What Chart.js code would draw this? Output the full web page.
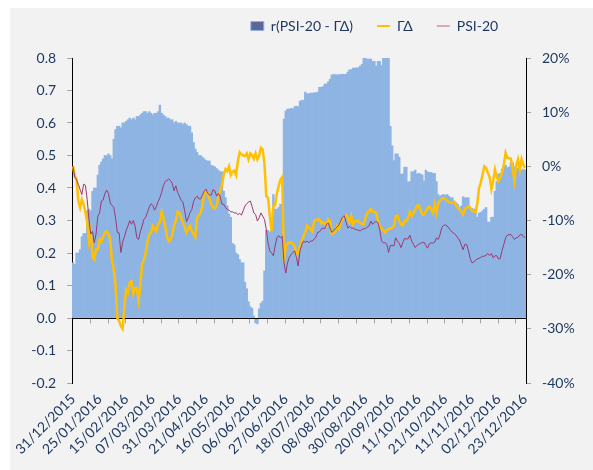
<!DOCTYPE html>
<html><head><meta charset="utf-8">
<script src="https://cdn.jsdelivr.net/npm/chart.js@4.4.1/dist/chart.umd.min.js"></script>
<style>
html,body{margin:0;padding:0;background:#fff;width:593px;height:470px;overflow:hidden}
#wrap{position:absolute;left:10px;top:8px;width:583px;height:462px;background:#f2f2f2}
canvas{display:block}
</style></head><body>
<div id="wrap"><canvas id="c" width="583" height="462"></canvas></div>
<script>
const tickLabels = ['31/12/2015','25/01/2016','15/02/2016','07/03/2016','31/03/2016','21/04/2016','16/05/2016','06/06/2016','27/06/2016','18/07/2016','08/08/2016','30/08/2016','20/09/2016','11/10/2016','21/10/2016','11/11/2016','02/12/2016','23/12/2016'];

const seriesNames = ['r(PSI-20 - ΓΔ)', 'ΓΔ', 'PSI-20'];

const corrValues = [
0.17,0.165,0.20,0.20,0.21,0.25,0.26,0.26,0.33,0.335,
0.33,0.39,0.40,0.40,0.44,0.47,0.48,0.49,0.50,0.50,
0.505,0.50,0.49,0.55,0.58,0.59,0.59,0.585,0.60,0.60,
0.605,0.61,0.615,0.61,0.615,0.61,0.62,0.62,0.625,0.63,
0.635,0.635,0.63,0.635,0.63,0.625,0.63,0.63,0.635,0.655,
0.63,0.625,0.62,0.615,0.615,0.61,0.61,0.60,0.605,0.60,
0.60,0.60,0.595,0.60,0.595,0.59,0.59,0.57,0.54,0.52,
0.51,0.50,0.50,0.495,0.49,0.485,0.483,0.483,0.47,0.468,
0.465,0.46,0.455,0.45,0.45,0.39,0.37,0.345,0.32,0.31,
0.23,0.225,0.20,0.195,0.18,0.17,0.17,0.11,0.09,0.05,
0.035,0.03,0.006,-0.015,-0.018,0.028,0.045,0.052,0.145,0.27,
0.27,0.265,0.27,0.38,0.335,0.335,0.34,0.35,0.35,0.612,
0.637,0.643,0.643,0.645,0.643,0.65,0.652,0.65,0.667,0.67,
0.67,0.695,0.69,0.69,0.692,0.692,0.693,0.693,0.695,0.71,
0.71,0.712,0.72,0.72,0.727,0.735,0.748,0.749,0.749,0.748,
0.749,0.749,0.75,0.749,0.75,0.757,0.764,0.764,0.769,0.769,
0.77,0.77,0.775,0.781,0.80,0.80,0.797,0.797,0.797,0.79,
0.79,0.775,0.79,0.79,0.777,0.80,0.80,0.80,0.80,0.59,
0.53,0.484,0.505,0.505,0.495,0.443,0.443,0.464,0.464,0.418,
0.42,0.45,0.45,0.455,0.443,0.445,0.443,0.44,0.422,0.455,
0.45,0.448,0.448,0.445,0.445,0.42,0.38,0.375,0.378,0.38,
0.378,0.38,0.375,0.37,0.37,0.36,0.355,0.35,0.34,0.345,
0.373,0.37,0.37,0.37,0.337,0.337,0.335,0.335,0.31,0.323,
0.325,0.33,0.335,0.34,0.295,0.295,0.31,0.31,0.39,0.42,
0.443,0.445,0.458,0.469,0.47,0.463,0.465,0.478,0.478,0.465,
0.46,0.46,0.458,0.455,0.458,0.455
];

const gammaDeltaValues = [
0,-1.8,-2.4,-6.4,-7.6,-6.1,-7,-8.5,-10.3,-13.8,
-11.9,-16.8,-17.2,-15.3,-15.3,-13.5,-14,-13,-12.2,-12,
-12.5,-13.5,-17.5,-19,-22,-28,-28.5,-29.5,-30,-26,
-22.7,-23.3,-21.4,-21.2,-23.5,-22.5,-22.4,-24.8,-22,-18,
-17.3,-16,-14,-12.5,-12.3,-11,-11.5,-12,-10.7,-10.3,
-8.4,-9.5,-11,-13,-13.8,-13.6,-12.5,-11,-10,-8.4,
-8.6,-9.5,-10.4,-11.2,-12.2,-11.5,-11,-11.9,-12.5,-13.1,
-9.5,-9,-8.6,-7.3,-5,-4.6,-5,-6,-7,-7.6,
-7.8,-7.3,-5.5,-4.5,-3.5,-1.5,-0.5,-0.9,0,-1.6,
-1,-0.8,-1.6,1,2.6,2.2,2,1.9,2.4,1.3,
2.4,2.1,1.4,2.4,1.3,2,3.4,3.1,0.4,-5.5,
-5.8,-9.2,-11.9,-7.3,-7.2,-5,-3.6,-2.5,-2,-17.7,
-14.7,-14.3,-14.1,-14,-14.3,-14.7,-16.5,-15.8,-14.8,-13.8,
-12.9,-12.2,-11,-11.3,-11.6,-12,-10.1,-9.8,-9.9,-9.8,
-10.5,-10.3,-10.6,-11,-9.8,-10.1,-12.5,-12.3,-12,-11,
-11.5,-10.3,-9.8,-9.3,-9,-9.5,-10.3,-9.2,-10.7,-10.1,
-10.1,-10.1,-10.4,-10.7,-10.7,-9.5,-8.6,-8.3,-7.9,-8.4,
-8.4,-8.6,-10.1,-11,-11.5,-11.8,-12.2,-11.8,-11.5,-11.5,
-11.3,-11,-9.2,-9.1,-10,-10.7,-10.9,-10,-10.1,-9.5,
-8.4,-9.2,-8.7,-8,-7.3,-7.2,-8,-8.9,-8.9,-8.3,
-7.7,-7.4,-7.9,-8.6,-7,-8.6,-6.7,-6.4,-6,-5.8,
-6,-6.4,-6.6,-6.7,-6.7,-6.6,-7.2,-7.7,-7.9,-8.4,
-8.9,-7.9,-7.7,-7.4,-7.6,-8.2,-8.3,-8.4,-7,-4,
-3,-1.5,0,-0.3,-1.2,-2,-4.2,-2.7,-0.6,-2,
-2.7,-2,-1.2,0.3,2.5,1.6,1.5,1.4,-0.6,-2.7,
0.2,1.3,-0.6,1.3,0.3,-0.3
];

const psiValues = [
0,-2,-2.5,-3.3,-4.3,-5.2,-3.3,-3.5,-6.1,-9.8,
-12.5,-12,-14.1,-12.5,-9.2,-8.6,-6.4,-6.2,-5,-4.4,
-5,-6.8,-7.2,-7.6,-9.5,-12.2,-12.3,-15.9,-14,-13,
-11.8,-11,-10,-10.7,-10,-11,-13.2,-13.5,-12,-11,
-9.8,-9.4,-8.5,-7.5,-6.9,-7.2,-8.1,-7.4,-6.5,-5.8,
-4.8,-3.5,-2.8,-2.6,-2.3,-2.6,-3.2,-4.5,-3.6,-4.8,
-5.5,-6.3,-6.6,-8.2,-10.2,-9.5,-8.5,-8,-6.5,-5.8,
-5.5,-6,-6,-5.3,-4.6,-4.2,-5,-5.3,-5.3,-4.3,
-4.5,-5.5,-5,-5.6,-7,-7,-7.6,-7.9,-8.1,-8.4,
-8.4,-8.6,-8.6,-8.9,-8.7,-9,-8.2,-7.3,-6.9,-6.6,
-6.4,-7.4,-8.6,-8.9,-10.1,-9.5,-8.6,-9.2,-9.8,-11.6,
-14.1,-15.6,-16,-16.5,-14.7,-13.2,-12.8,-13.2,-12.9,-17.8,
-19.7,-17.8,-16.8,-16.3,-15.9,-15.6,-16.8,-18.4,-15.6,-14.5,
-13.8,-14,-13.8,-14.1,-13.8,-13.8,-13.4,-13.1,-12.2,-12.1,
-11.6,-11.4,-11.5,-10.7,-10.5,-11.4,-12.2,-11.9,-11.5,-11.2,
-10.8,-10.1,-9.4,-9.1,-10.3,-11.4,-11.1,-11.4,-11.4,-11.6,
-11.7,-11.8,-11.9,-11.7,-11.5,-11.5,-11.2,-11,-10.1,-10.7,
-10.3,-10.2,-10.4,-11.7,-13.8,-14.1,-14.1,-14.4,-15.9,-14.6,
-14.6,-14.7,-13.2,-13.8,-14.2,-15,-14.1,-13.3,-13.4,-13.4,
-12.7,-13.8,-14.4,-15,-14.6,-14.4,-14.2,-14.1,-14,-14.6,
-15.1,-14.3,-14.1,-14.2,-14,-13.2,-13.5,-12.6,-11.3,-10.9,
-10.8,-11,-11.4,-11.8,-12.2,-12.4,-12.7,-13.2,-13.6,-14.5,
-15.4,-14.4,-14.4,-15.5,-17,-17.8,-17.7,-17.3,-17.1,-17,
-16.8,-16.6,-16.6,-16.4,-16.1,-16.5,-16.1,-16.9,-16.5,-16.5,
-17.1,-17,-15.5,-14.4,-13.2,-12.7,-12.6,-12.6,-13,-13.5,
-13.2,-13.1,-12.7,-12.5,-13,-13.1
];

const categories = corrValues.map((v, i) => i);
const LABEL_EVERY = 15;
const MARK_EVERY = 10;

const NAVY = '#1b365f';
const FONT = { family: 'Lato', size: 14 };

const zeroAxisPlugin = {
  id: 'zeroAxis',
  beforeDatasetDraw(chart, args) {
    if (args.index !== 1) return;
    const { ctx, chartArea, scales } = chart;
    const y = Math.round(scales.y.getPixelForValue(0)) + 0.5;
    const half = (scales.x.getPixelForValue(1) - scales.x.getPixelForValue(0)) / 2;
    ctx.save();
    ctx.strokeStyle = '#a6a6a6';
    ctx.lineWidth = 1;
    ctx.beginPath();
    for (let i = MARK_EVERY; i < categories.length; i += MARK_EVERY) {
      const x = Math.round(scales.x.getPixelForValue(i) - half) + 0.5;
      ctx.moveTo(x, y);
      ctx.lineTo(x, y + 5);
    }
    ctx.stroke();
    ctx.strokeStyle = '#000';
    ctx.beginPath();
    ctx.moveTo(chartArea.left, y);
    ctx.lineTo(chartArea.right, y);
    ctx.stroke();
    ctx.restore();
  }
};

const LEGEND_DX = 73, LEGEND_DY = -15;
const legendShiftPlugin = {
  id: 'legendShift',
  afterLayout(chart) {
    const lg = chart.legend;
    lg.left += LEGEND_DX; lg.right += LEGEND_DX;
    lg.top += LEGEND_DY; lg.bottom += LEGEND_DY;
  }
};

new Chart(document.getElementById('c'), {
  type: 'bar',
  data: {
    labels: categories,
    datasets: [
      { type: 'bar', label: seriesNames[0], data: corrValues, backgroundColor: '#8eb4e3', borderWidth: 0,
        barPercentage: 1, categoryPercentage: 1, yAxisID: 'y', order: 3 },
      { type: 'line', label: seriesNames[1], data: gammaDeltaValues, borderColor: '#ffc000', borderWidth: 2.5,
        pointRadius: 0, tension: 0, yAxisID: 'y1', order: 2 },
      { type: 'line', label: seriesNames[2], data: psiValues, borderColor: '#9b3a70', borderWidth: 1,
        pointRadius: 0, tension: 0, yAxisID: 'y1', order: 1 }
    ]
  },
  options: {
    responsive: false,
    animation: false,
    devicePixelRatio: 1,
    layout: { padding: { top: 2, left: 0, right: 0, bottom: 0 } },
    plugins: {
      tooltip: { enabled: false },
      legend: {
        position: 'top',
        align: 'center',
        labels: {
          usePointStyle: true,
          pointStyleWidth: 13,
          boxHeight: 9,
          padding: 24,
          color: NAVY,
          font: FONT,
          generateLabels() {
            return [
              { text: seriesNames[0], fillStyle: '#5f6599', strokeStyle: '#8eb4e3', lineWidth: 1, pointStyle: 'rect', fontColor: NAVY, datasetIndex: 0, hidden: false },
              { text: seriesNames[1], fillStyle: '#ffc000', strokeStyle: '#ffc000', lineWidth: 2, pointStyle: 'line', fontColor: NAVY, datasetIndex: 1, hidden: false },
              { text: seriesNames[2], fillStyle: '#b7628f', strokeStyle: '#b7628f', lineWidth: 1, pointStyle: 'line', fontColor: NAVY, datasetIndex: 2, hidden: false }
            ];
          }
        }
      }
    },
    scales: {
      x: {
        offset: true,
        grid: { display: false, drawTicks: false },
        border: { display: false },
        ticks: {
          autoSkip: false, minRotation: 45, maxRotation: 45, padding: 8,
          color: NAVY, font: FONT,
          callback: (v, i) => (i % LABEL_EVERY === 0 ? tickLabels[i / LABEL_EVERY] : '')
        },
        afterFit(s) { s.height = 87; }
      },
      y: {
        position: 'left', min: -0.2, max: 0.8,
        ticks: { stepSize: 0.1, padding: 11, color: NAVY, font: FONT,
          callback: v => (Math.abs(v) < 1e-9 ? '0.0' : v.toFixed(1)) },
        grid: { display: true, drawOnChartArea: false, drawTicks: true, tickLength: 5, tickColor: '#a6a6a6', color: '#a6a6a6' },
        border: { display: true, color: '#000', width: 1 },
        afterFit(s) { s.width = 61; }
      },
      y1: {
        position: 'right', min: -40, max: 20,
        ticks: { stepSize: 10, padding: 11, color: NAVY, font: FONT,
          callback: v => (Math.abs(v) < 1e-9 ? '0%' : Math.round(v) + '%') },
        grid: { display: true, drawOnChartArea: false, drawTicks: true, tickLength: 5, tickColor: '#a6a6a6', color: '#a6a6a6' },
        border: { display: true, color: '#000', width: 1 },
        afterFit(s) { s.width = 67; }
      }
    }
  },
  plugins: [zeroAxisPlugin, legendShiftPlugin]
});
</script>
</body></html>
